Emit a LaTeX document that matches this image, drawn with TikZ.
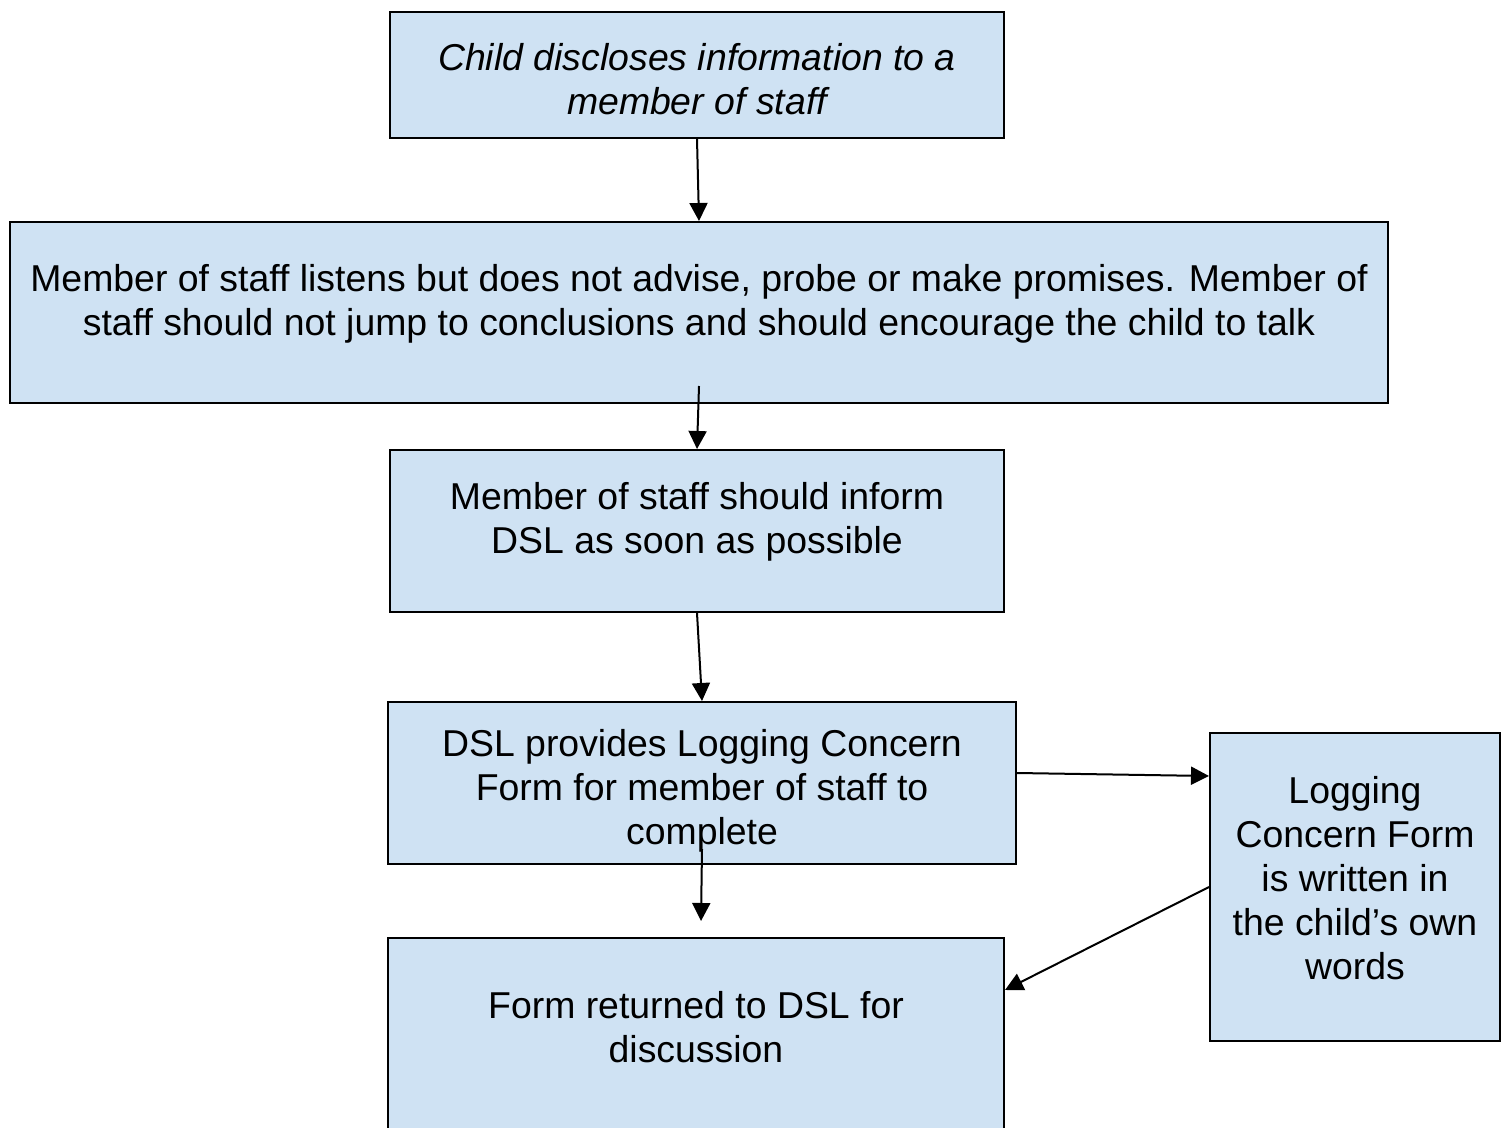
\documentclass[tikz,border=0pt]{standalone}
\usepackage{fontspec}
\setmainfont{Liberation Sans}
\usetikzlibrary{arrows.meta}
\definecolor{boxblue}{HTML}{CFE2F3}
\begin{document}
\begin{tikzpicture}[x=0.5pt,y=-0.5pt,
  >={Triangle[width=9pt,length=9pt]},
  box/.style={draw,line width=1pt,fill=boxblue,inner sep=0pt},
  boxtext/.style={align=center,font=\fontsize{18.7pt}{22pt}\selectfont},
  link/.style={->,line width=1pt}]
\useasboundingbox (0,0) rectangle (1509,1128);
\clip (0,0) rectangle (1509,1128);

% Boxes
\node[box,minimum width=307pt,minimum height=63pt] (disclose) at (697,75) {};
\node[box,minimum width=689pt,minimum height=90.5pt] (listen) at (699,312.5) {};
\node[box,minimum width=307pt,minimum height=81pt] (inform) at (697,531) {};
\node[box,minimum width=314pt,minimum height=81pt] (provide) at (702,783) {};
\node[box,minimum width=308pt,minimum height=100pt] (returned) at (696,1038) {};
\node[box,minimum width=145pt,minimum height=154pt] (written) at (1355,887) {};

% Texts
\node[boxtext,font=\fontsize{18.7pt}{22pt}\selectfont\itshape] (disclose-t) at (697,79) {Child discloses information to a\\member of staff};
\node[boxtext] (listen-t) at (699,304) {Member of staff listens but does not advise, probe or make promises. Member of\\staff should not jump to conclusions and should encourage the child to talk};
\node[boxtext] (inform-t) at (697,522) {Member of staff should inform\\DSL as soon as possible};
\node[boxtext] (provide-t) at (702,791) {DSL provides Logging Concern\\Form for member of staff to\\complete};
\node[boxtext] (returned-t) at (696,1027) {Form returned to DSL for\\discussion};
\node[boxtext] (written-t) at (1355,878) {Logging\\Concern Form\\is written in\\the child’s own\\words};

% Arrows
\draw[link] (disclose.south) -- (listen.north);
\draw[link] ([yshift=9pt]listen.south) -- (inform.north);
\draw[link] (inform.south) -- (provide.north);
\draw[link] ([yshift=8pt]provide.south) -- ([xshift=2.5pt,yshift=8pt]returned.north);
\draw[link] ([yshift=5pt]provide.east) -- ([yshift=55.5pt]written.west);
\draw[link] (written.west) -- ([yshift=24pt]returned.east);
\end{tikzpicture}
\end{document}
